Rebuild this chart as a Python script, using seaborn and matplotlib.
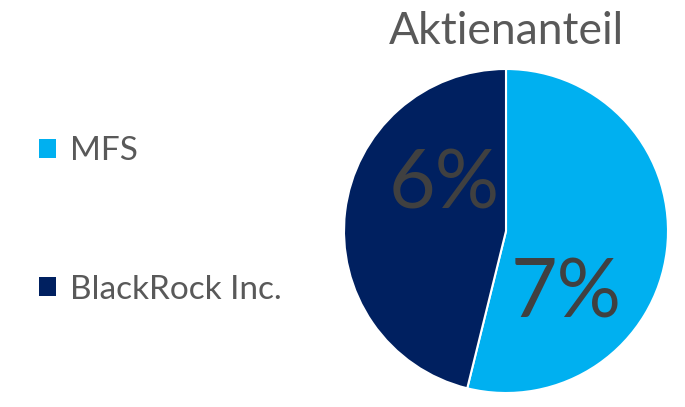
import matplotlib
matplotlib.use("Agg")
import matplotlib.pyplot as plt
from matplotlib.patches import Patch
import seaborn as sns

# data
categories = ["MFS", "BlackRock Inc."]
shares = [7, 6]
share_labels = ["7%", "6%"]
colors = ["#00B0F0", "#002060"]
title = "Aktienanteil"

sns.set_theme(style="white")
plt.rcParams["font.family"] = ["Lato", "DejaVu Sans"]

fig = plt.figure(figsize=(6.85, 4.07), dpi=100)

# pie axes: centre ~ (506, 231) px, radius ~162 px
cx, cy, r = 506, 407 - 231, 162
ax = fig.add_axes([(cx - r) / 685, (cy - r) / 407, 2 * r / 685, 2 * r / 407])
wedges, _ = ax.pie(shares, colors=colors, startangle=90, counterclock=False,
                   wedgeprops=dict(edgecolor="white", linewidth=1.5))
ax.set_xlim(-1, 1)
ax.set_ylim(-1, 1)
ax.set_aspect("equal")

# value labels (placed like the PowerPoint "best fit")
label_pos = {"7%": (0.37, -0.39), "6%": (-0.38, 0.28)}
for lab in share_labels:
    x, y = label_pos[lab]
    ax.text(x, y, lab, ha="center", va="center", fontsize=58, color="#404040")

fig.text(506 / 685, (407 - 44) / 407, title, ha="center", va="baseline",
         fontsize=32, color="#595959")

handles = [Patch(facecolor=c, edgecolor="none") for c in colors]
fig.legend(handles, categories, loc="center left",
           bbox_to_anchor=(39 / 685, 0.458), frameon=False,
           fontsize=24, labelcolor="#595959", handlelength=0.5,
           handleheight=0.5, handletextpad=0.42, labelspacing=3.25,
           borderpad=0, borderaxespad=0)

fig.savefig("out.png", dpi=100)
